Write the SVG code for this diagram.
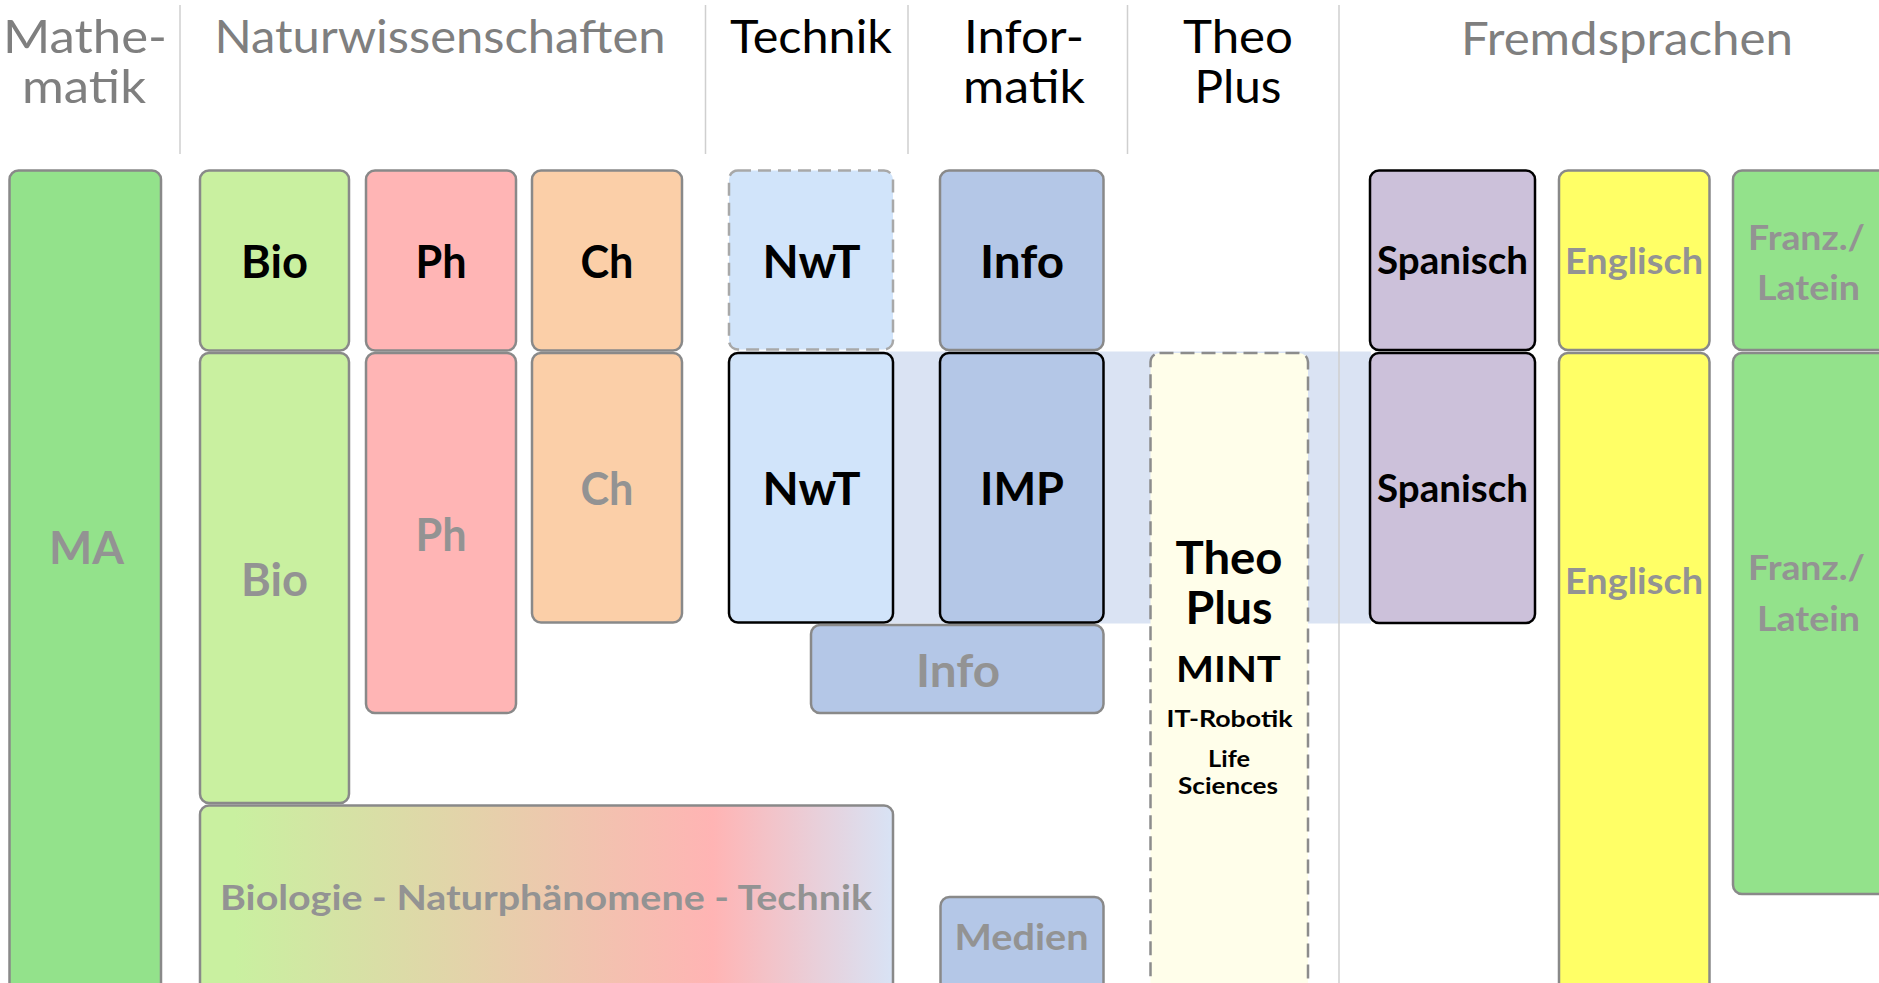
<svg xmlns="http://www.w3.org/2000/svg" width="1879" height="983" viewBox="0 0 1879 983">
<style>
text{font-family:Lato,"Open Sans","DejaVu Sans",sans-serif;text-anchor:middle}
.h{font-size:45.5px;font-weight:400}
.hg{fill:#7f7f7f}
.hk{fill:#000}
.b{font-size:45px;font-weight:700}
.k{fill:#000}
.g{fill:#939393}
.box{stroke:#898989;stroke-width:2.5}
.blk{stroke:#000;stroke-width:2.5}
.dash{stroke:#8c8c8c;stroke-width:2.5;stroke-dasharray:14 7}
.dash2{stroke:#a8a8a8;stroke-width:2.5;stroke-dasharray:13 7}
.sep{stroke:#cfcfcf;stroke-width:1.5}
</style>
<defs>
<linearGradient id="bnt" x1="0" y1="0" x2="1" y2="0">
<stop offset="0" stop-color="#c9f0a0"/>
<stop offset="0.05" stop-color="#c9f0a0"/>
<stop offset="0.74" stop-color="#ffb4b4"/>
<stop offset="1" stop-color="#d8e3f5"/>
</linearGradient>
</defs>
<rect width="1879" height="983" fill="#fff"/>

<g id="band"><rect x="740" y="351.5" width="631" height="272" fill="#dae3f3"/></g>

<g id="separators">
<line class="sep" x1="180" y1="5" x2="180" y2="154"/>
<line class="sep" x1="705.5" y1="5" x2="705.5" y2="154"/>
<line class="sep" x1="908" y1="5" x2="908" y2="154"/>
<line class="sep" x1="1127.5" y1="5" x2="1127.5" y2="154"/>
<line class="sep" x1="1339" y1="5" x2="1339" y2="983"/>
</g>

<g id="headers">
<text class="h hg" x="85" y="53" textLength="164" lengthAdjust="spacingAndGlyphs">Mathe-</text>
<text class="h hg" x="84" y="103" textLength="124" lengthAdjust="spacingAndGlyphs">matik</text>
<text class="h hg" x="440" y="53" textLength="451" lengthAdjust="spacingAndGlyphs">Naturwissenschaften</text>
<text class="h hk" x="811" y="53" textLength="162" lengthAdjust="spacingAndGlyphs">Technik</text>
<text class="h hk" x="1024" y="53" textLength="120" lengthAdjust="spacingAndGlyphs">Infor-</text>
<text class="h hk" x="1024" y="103" textLength="122" lengthAdjust="spacingAndGlyphs">matik</text>
<text class="h hk" x="1238" y="53" textLength="110" lengthAdjust="spacingAndGlyphs">Theo</text>
<text class="h hk" x="1238" y="103" textLength="87" lengthAdjust="spacingAndGlyphs">Plus</text>
<text class="h hg" x="1627" y="55" textLength="332" lengthAdjust="spacingAndGlyphs">Fremdsprachen</text>
</g>

<g id="ma">
<rect class="box" x="9.5" y="170.5" width="151.5" height="900" rx="9" fill="#93e28b"/>
<text class="b g" x="86.5" y="563.5" textLength="75" lengthAdjust="spacingAndGlyphs">MA</text>
</g>

<g id="bio-top">
<rect class="box" x="200" y="170.5" width="149" height="180" rx="9" fill="#c9f0a0"/>
<text class="b k" x="274.5" y="278" textLength="67" lengthAdjust="spacingAndGlyphs">Bio</text>
</g>
<g id="bio-low">
<rect class="box" x="200" y="353" width="149" height="450" rx="9" fill="#c9f0a0"/>
<text class="b g" x="274.5" y="595.5" textLength="67" lengthAdjust="spacingAndGlyphs">Bio</text>
</g>

<g id="ph-top">
<rect class="box" x="366" y="170.5" width="150" height="180" rx="9" fill="#ffb5b5"/>
<text class="b k" x="441" y="278" textLength="51" lengthAdjust="spacingAndGlyphs">Ph</text>
</g>
<g id="ph-low">
<rect class="box" x="366" y="353" width="150" height="360" rx="9" fill="#ffb5b5"/>
<text class="b g" x="441" y="551" textLength="51" lengthAdjust="spacingAndGlyphs">Ph</text>
</g>

<g id="ch-top">
<rect class="box" x="532" y="170.5" width="150" height="180" rx="9" fill="#fbcfa8"/>
<text class="b k" x="607" y="278" textLength="53" lengthAdjust="spacingAndGlyphs">Ch</text>
</g>
<g id="ch-low">
<rect class="box" x="532" y="353" width="150" height="269.5" rx="9" fill="#fbcfa8"/>
<text class="b g" x="607" y="504.5" textLength="53" lengthAdjust="spacingAndGlyphs">Ch</text>
</g>

<g id="bnt">
<rect class="box" x="200" y="805.5" width="693" height="300" rx="9" fill="url(#bnt)"/>
<text class="b g" x="546" y="910" style="font-size:35px" textLength="652" lengthAdjust="spacingAndGlyphs">Biologie - Naturphänomene - Technik</text>
</g>

<g id="nwt-top">
<rect class="dash2" x="729" y="170.5" width="164" height="179" rx="9" fill="#d1e4fa"/>
<text class="b k" x="811.5" y="278" textLength="98" lengthAdjust="spacingAndGlyphs">NwT</text>
</g>
<g id="nwt-low">
<rect class="blk" x="729" y="353" width="164" height="269.5" rx="9" fill="#d1e4fa"/>
<text class="b k" x="811.5" y="504.5" textLength="98" lengthAdjust="spacingAndGlyphs">NwT</text>
</g>

<g id="info-top">
<rect class="box" x="940" y="170.5" width="163.5" height="179.5" rx="9" fill="#b4c7e7"/>
<text class="b k" x="1022" y="278" textLength="84" lengthAdjust="spacingAndGlyphs">Info</text>
</g>
<g id="info-low">
<rect class="box" x="811" y="625" width="292.5" height="88" rx="9" fill="#b4c7e7"/>
<text class="b g" x="958" y="687" textLength="84" lengthAdjust="spacingAndGlyphs">Info</text>
</g>
<g id="imp">
<rect class="blk" x="940" y="353" width="163.5" height="269.5" rx="9" fill="#b4c7e7"/>
<text class="b k" x="1022" y="504.5" textLength="84" lengthAdjust="spacingAndGlyphs">IMP</text>
</g>
<g id="medien">
<rect class="box" x="940.5" y="897" width="163" height="200" rx="9" fill="#b4c7e7"/>
<text class="b g" x="1021.5" y="949.5" style="font-size:36px" textLength="134" lengthAdjust="spacingAndGlyphs">Medien</text>
</g>

<g id="theoplus">
<rect class="dash" x="1150.5" y="353" width="157.5" height="700" rx="9" fill="#fffeea"/>
<text class="b k" x="1229" y="574" textLength="107" lengthAdjust="spacingAndGlyphs">Theo</text>
<text class="b k" x="1229" y="624" textLength="87" lengthAdjust="spacingAndGlyphs">Plus</text>
<text class="b k" x="1228.5" y="681.5" style="font-size:37px" textLength="105" lengthAdjust="spacingAndGlyphs">MINT</text>
<text class="b k" x="1229.5" y="727.3" style="font-size:23px" textLength="126" lengthAdjust="spacingAndGlyphs">IT-Robotik</text>
<text class="b k" x="1229" y="766.7" style="font-size:23px" textLength="42" lengthAdjust="spacingAndGlyphs">Life</text>
<text class="b k" x="1228" y="794" style="font-size:23px" textLength="100" lengthAdjust="spacingAndGlyphs">Sciences</text>
</g>

<g id="spanisch-top">
<rect class="blk" x="1370" y="170.5" width="165" height="179.5" rx="9" fill="#ccc1da"/>
<text class="b k" x="1452.5" y="274.3" style="font-size:38.5px" textLength="151" lengthAdjust="spacingAndGlyphs">Spanisch</text>
</g>
<g id="spanisch-low">
<rect class="blk" x="1370" y="353" width="165" height="270" rx="9" fill="#ccc1da"/>
<text class="b k" x="1452.5" y="501.5" style="font-size:38.5px" textLength="151" lengthAdjust="spacingAndGlyphs">Spanisch</text>
</g>

<g id="englisch-top">
<rect class="box" x="1559" y="170.5" width="150.5" height="179.5" rx="9" fill="#ffff66"/>
<text class="b g" x="1634" y="274" style="font-size:36px" textLength="138" lengthAdjust="spacingAndGlyphs">Englisch</text>
</g>
<g id="englisch-low">
<rect class="box" x="1559" y="353" width="150.5" height="700" rx="9" fill="#ffff66"/>
<text class="b g" x="1634" y="593.5" style="font-size:36px" textLength="138" lengthAdjust="spacingAndGlyphs">Englisch</text>
</g>

<g id="franz-top">
<rect class="box" x="1733" y="170.5" width="200" height="179.5" rx="9" fill="#93e28b"/>
<text class="b g" x="1806.5" y="250" style="font-size:35px" textLength="117" lengthAdjust="spacingAndGlyphs">Franz./</text>
<text class="b g" x="1808.5" y="300" style="font-size:35px" textLength="103" lengthAdjust="spacingAndGlyphs">Latein</text>
</g>
<g id="franz-low">
<rect class="box" x="1733" y="353" width="200" height="541" rx="9" fill="#93e28b"/>
<text class="b g" x="1806.5" y="580" style="font-size:35px" textLength="117" lengthAdjust="spacingAndGlyphs">Franz./</text>
<text class="b g" x="1808.5" y="631" style="font-size:35px" textLength="103" lengthAdjust="spacingAndGlyphs">Latein</text>
</g>
</svg>
